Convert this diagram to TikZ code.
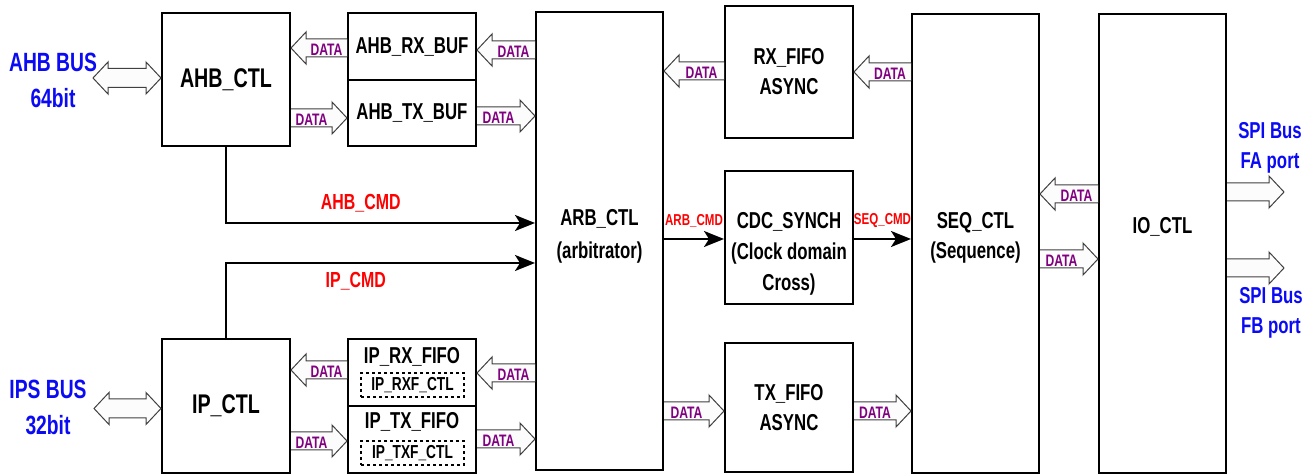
\documentclass[tikz,border=0pt]{standalone}
\usepackage{fontspec}
\setmainfont{Liberation Sans}[FakeStretch=0.73]
\usetikzlibrary{calc,arrows.meta}
\definecolor{datapurple}{RGB}{128,0,128}
\definecolor{cmdred}{RGB}{255,0,0}
\definecolor{busblue}{RGB}{10,10,245}
\newcommand\sizebf[2]{\fontsize{#1}{#2}\selectfont\bfseries}

\begin{document}
\begin{tikzpicture}[x=0.5pt,y=-0.5pt,>={Stealth[length=10pt,width=8pt,inset=2.5pt]},
  box/.style={draw,line width=1pt,minimum width=64pt,inner sep=0pt,align=center,font=\sizebf{11.5pt}{15pt}},
  txt/.style={inner sep=0pt,align=center,font=\sizebf{11.5pt}{15pt}},
  dbox/.style={draw,dash pattern=on 1.6pt off 1.4pt,line width=0.6pt,minimum width=51.5pt,minimum height=12pt,inner sep=0pt,font=\sizebf{9.4pt}{10pt}},
  dlab/.style={pos=.5,anchor=base,yshift=0.8pt,inner sep=0pt,text=datapurple,font=\sizebf{8.3pt}{9pt}},
  cmd/.style={line width=1pt,->},
  cmdlab/.style={inner sep=0pt,text=cmdred,font=\sizebf{10.9pt}{12pt}},
  bus/.style={inner sep=0pt,align=center,text=busblue,font=\sizebf{13.2pt}{18pt}},
  spi/.style={inner sep=0pt,align=center,text=busblue,font=\sizebf{11.5pt}{15pt}},
  fat/.style={draw=black!75,fill=gray!2,line width=0.5pt,to path={let \p1=(\tikztostart),\p2=(\tikztotarget),\n1={sign(\x2-\x1)} in
    (\x1,\y1+4.5pt) -- ({\x2-(\n1)*7.5pt},\y1+4.5pt) -- ({\x2-(\n1)*7.5pt},\y1+8pt) -- (\x2,\y1)
    -- ({\x2-(\n1)*7.5pt},\y1-8pt) -- ({\x2-(\n1)*7.5pt},\y1-4.5pt) -- (\x1,\y1-4.5pt) \tikztonodes}},
  fatboth/.style={draw=black!75,fill=gray!2,line width=0.5pt,to path={let \p1=(\tikztostart),\p2=(\tikztotarget),\n1={sign(\x2-\x1)} in
    (\x1,\y1) -- ({\x1+(\n1)*7.5pt},\y1+8pt) -- ({\x1+(\n1)*7.5pt},\y1+4.75pt) -- ({\x2-(\n1)*7.5pt},\y1+4.75pt)
    -- ({\x2-(\n1)*7.5pt},\y1+8pt) -- (\x2,\y1) -- ({\x2-(\n1)*7.5pt},\y1-8pt) -- ({\x2-(\n1)*7.5pt},\y1-4.75pt)
    -- ({\x1+(\n1)*7.5pt},\y1-4.75pt) -- ({\x1+(\n1)*7.5pt},\y1-8pt) -- cycle}}]
  \useasboundingbox (0,0) rectangle (1313,475);
  % blocks, left column
  \node[box,minimum height=66.5pt,font=\sizebf{13.5pt}{15pt}] (ahb) at (226,79.5) {AHB\_CTL};
  \node[box,minimum height=33.5pt] (ahbrx) at (412,46.5) {AHB\_RX\_BUF};
  \node[box,minimum height=33pt] (ahbtx) at (412,113) {AHB\_TX\_BUF};
  \node[box,minimum height=67pt,font=\sizebf{13.5pt}{15pt}] (ipctl) at (226,406) {IP\_CTL};
  \node[box,minimum height=33.5pt] (iprx) at (412,372.5) {};
  \node[box,minimum height=33.5pt] (iptx) at (412,439.5) {};
  \node[txt] (iprxt) at (412,357) {IP\_RX\_FIFO};
  \node[txt] (iptxt) at (412,422) {IP\_TX\_FIFO};
  \node[dbox] (iprxf) at (412.5,385) {IP\_RXF\_CTL};
  \node[dbox] (iptxf) at (412.5,453) {IP\_TXF\_CTL};
  % blocks, right part
  \node[box,minimum width=63.5pt,minimum height=229pt] (arb) at (599.5,241) {};
  \node[txt,font=\sizebf{11.5pt}{16.5pt}] (arbt) at (599.5,236) {ARB\_CTL\\(arbitrator)};
  \node[box,minimum height=66pt] (rxfifo) at (789,72) {RX\_FIFO\\ASYNC};
  \node[box,minimum height=66.5pt] (cdc) at (789,237.5) {};
  \node[txt,font=\sizebf{11.5pt}{15.5pt}] (cdct) at (789,253.5) {CDC\_SYNCH\\(Clock domain\\Cross)};
  \node[box,minimum height=64.5pt] (txfifo) at (789,407.5) {TX\_FIFO\\ASYNC};
  \node[box,minimum width=63.5pt,minimum height=229.5pt] (seq) at (975.5,243.5) {};
  \node[txt] (seqt) at (975.5,238) {SEQ\_CTL\\(Sequence)};
  \node[box,minimum width=63.5pt,minimum height=229.5pt] (io) at (1162.5,243.5) {};
  \node[txt] (iot) at (1162.5,227) {IO\_CTL};
  % bus texts
  \node[bus] (ahbbust) at (53,80) {AHB BUS\\64bit};
  \node[bus] (ipsbust) at (48,407) {IPS BUS\\32bit};
  \node[spi] (spifat) at (1270,148) {SPI Bus\\FA port};
  \node[spi] (spifbt) at (1271,313) {SPI Bus\\FB port};
  \coordinate (ahbbus) at (93,78);
  \coordinate (ipsbus) at (94,408.5);
  \coordinate (spifa) at (1284,192);
  \coordinate (spifb) at (1284,268);
  % data paths
  \draw[fatboth] (ahbbus) to (ahb.west |- ahbbus);
  \draw[fatboth] (ipsbus) to (ipctl.west |- ipsbus);
  \draw[fat] (ahbrx.west |- 0,48) to node[dlab]{DATA} (ahb.east |- 0,48);
  \draw[fat] (ahb.east |- 0,118) to node[dlab]{DATA} (ahbtx.west |- 0,118);
  \draw[fat] (arb.west |- 0,50) to node[dlab]{DATA} (ahbrx.east |- 0,50);
  \draw[fat] (ahbtx.east |- 0,116) to node[dlab]{DATA} (arb.west |- 0,116);
  \draw[fat] (iprx.west |- 0,370) to node[dlab]{DATA} (ipctl.east |- 0,370);
  \draw[fat] (ipctl.east |- 0,441) to node[dlab]{DATA} (iptx.west |- 0,441);
  \draw[fat] (arb.west |- 0,373) to node[dlab]{DATA} (iprx.east |- 0,373);
  \draw[fat] (iptx.east |- 0,439) to node[dlab]{DATA} (arb.west |- 0,439);
  \draw[fat] (rxfifo.west |- 0,71) to node[dlab]{DATA} (arb.east |- 0,71);
  \draw[fat] (arb.east |- 0,411) to node[dlab]{DATA} (txfifo.west |- 0,411);
  \draw[fat] (seq.west |- 0,72) to node[dlab]{DATA} (rxfifo.east |- 0,72);
  \draw[fat] (txfifo.east |- 0,411) to node[dlab]{DATA} (seq.west |- 0,411);
  \draw[fat] (io.west |- 0,194) to node[dlab]{DATA} (seq.east |- 0,194);
  \draw[fat] (seq.east |- 0,259) to node[dlab]{DATA} (io.west |- 0,259);
  \draw[fat] (io.east |- spifa) to (spifa);
  \draw[fat] (io.east |- spifb) to (spifb);
  % command paths
  \draw[cmd] (ahb.south) |- node[cmdlab,pos=.718,yshift=10pt]{AHB\_CMD} (arb.west |- 0,223);
  \draw[cmd] (ipctl.north) |- node[cmdlab,pos=.71,yshift=-9pt]{IP\_CMD} (arb.west |- 0,263);
  \draw[cmd] (arb.east |- 0,239) -- node[cmdlab,font=\sizebf{7.9pt}{9pt},yshift=9pt]{ARB\_CMD} (cdc.west |- 0,239);
  \draw[cmd] (cdc.east |- 0,239) -- node[cmdlab,font=\sizebf{7.9pt}{9pt},yshift=9pt]{SEQ\_CMD} (seq.west |- 0,239);
\end{tikzpicture}
\end{document}
